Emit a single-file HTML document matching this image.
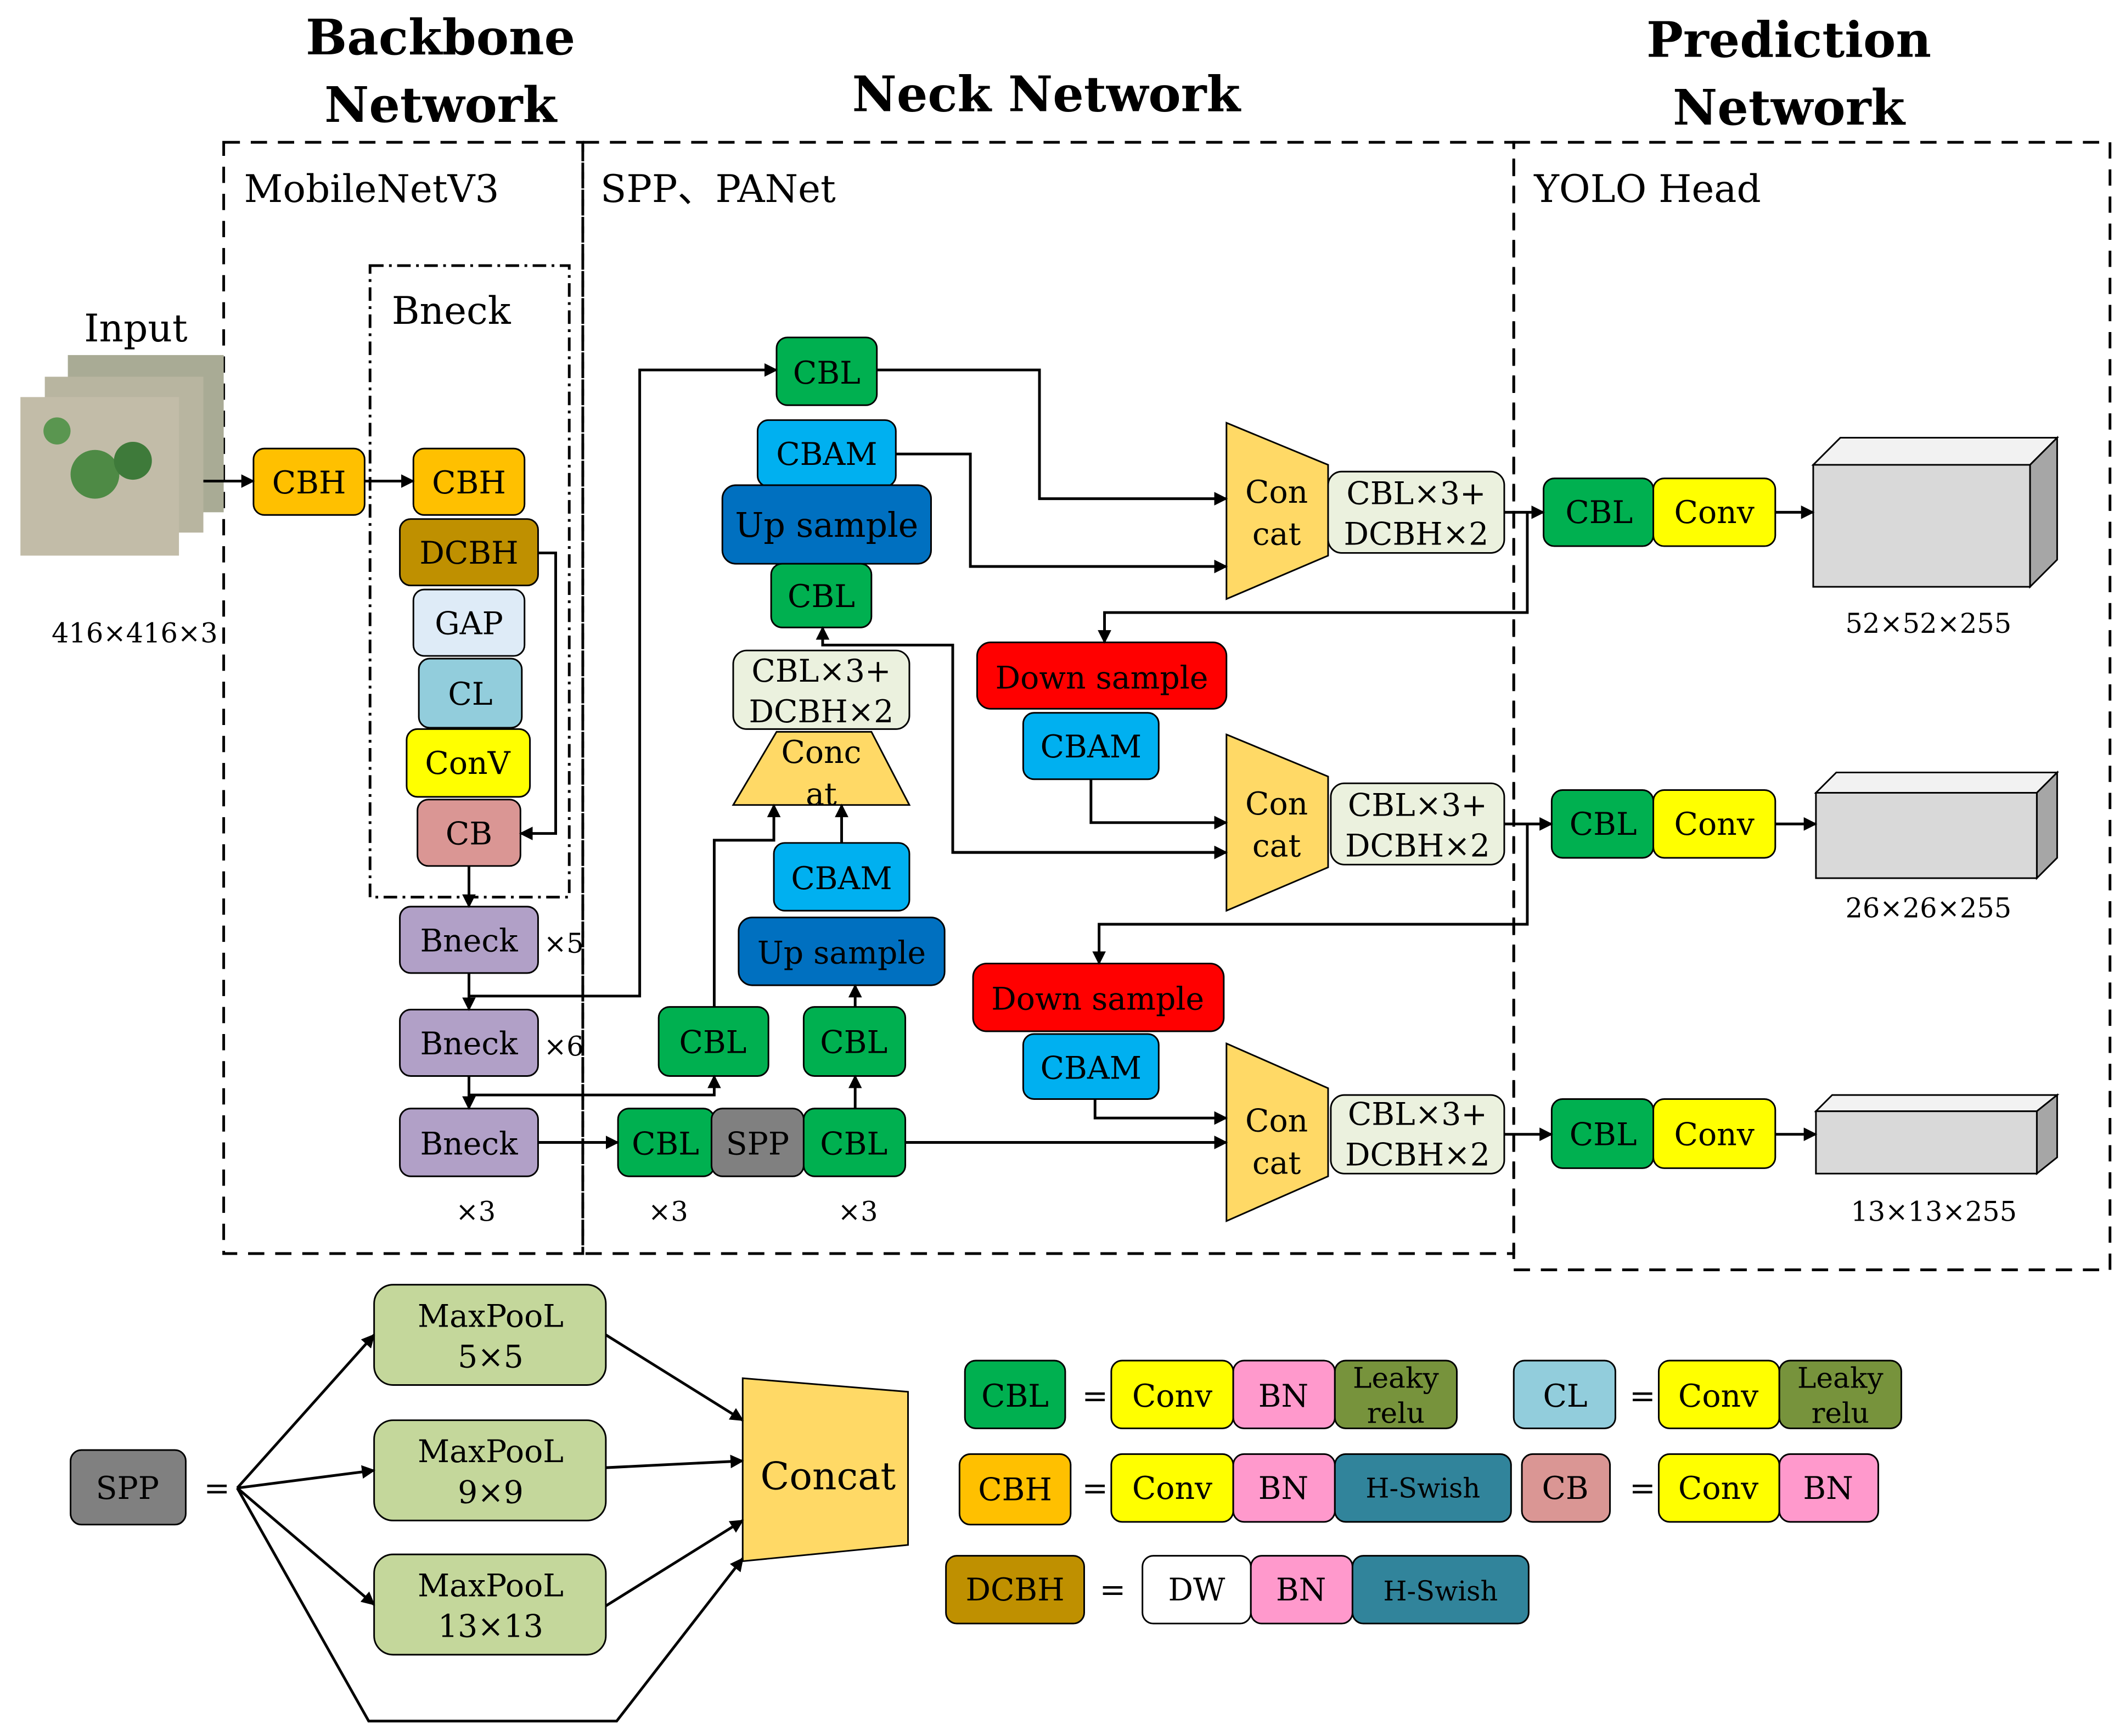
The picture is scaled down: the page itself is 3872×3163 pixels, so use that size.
<!DOCTYPE html>
<html><head><meta charset="utf-8"><style>html,body{margin:0;padding:0;background:#fff}svg{display:block}</style></head><body>
<svg xmlns="http://www.w3.org/2000/svg" width="3872" height="3163" viewBox="0 0 1568 1281" font-family="'DejaVu Serif', 'Liberation Serif', serif">
<defs><marker id="a" markerWidth="10" markerHeight="10" refX="9" refY="5" orient="auto" markerUnits="userSpaceOnUse"><path d="M0,0 L10,5 L0,10 z" fill="#000"/></marker></defs>
<rect width="1568" height="1281" fill="#fff"/>
<g font-weight="bold" font-size="36" text-anchor="middle">
<text x="325" y="40">Backbone</text><text x="325" y="90">Network</text>
<text x="772" y="82">Neck Network</text>
<text x="1320" y="42">Prediction</text><text x="1320" y="92">Network</text>
</g>
<g fill="none" stroke="#000" stroke-width="2" stroke-dasharray="12,8">
<rect x="165" y="105" width="265" height="820"/>
<rect x="430" y="105" width="687" height="820"/>
<rect x="1117" y="105" width="440" height="832"/>
</g>
<rect x="273" y="196" width="147" height="466" fill="none" stroke="#000" stroke-width="2" stroke-dasharray="10,4,2,4"/>
<g font-size="28"><text x="180" y="149">MobileNetV3</text><text x="443" y="149">SPP、PANet</text><text x="1132" y="149">YOLO Head</text><text x="289" y="239">Bneck</text><text x="62" y="252">Input</text></g>
<text x="38" y="474" font-size="20">416×416×3</text>
<rect x="50" y="262" width="115" height="116" fill="#a9ab95"/>
<rect x="33" y="278" width="117" height="115" fill="#b8b5a0"/>
<rect x="15" y="293" width="117" height="117" fill="#c2bca8"/>
<circle cx="70" cy="350" r="18" fill="#4e8a45"/><circle cx="98" cy="340" r="14" fill="#3e7a3a"/><circle cx="42" cy="318" r="10" fill="#5a9650"/>
<g stroke="#000" stroke-width="1.2">
<rect x="187" y="331" width="82" height="49" rx="8" fill="#FFC000"/>
<rect x="305" y="331" width="82" height="49" rx="8" fill="#FFC000"/>
<rect x="295" y="383" width="102" height="49" rx="8" fill="#BF9000"/>
<rect x="305" y="435" width="82" height="49" rx="8" fill="#DEEBF7"/>
<rect x="309" y="486" width="76" height="51" rx="8" fill="#92CDDC"/>
<rect x="300" y="538" width="91" height="50" rx="8" fill="#FFFF00"/>
<rect x="308" y="590" width="76" height="49" rx="8" fill="#DA9694"/>
<rect x="295" y="669" width="102" height="49" rx="8" fill="#B1A0C7"/>
<rect x="295" y="745" width="102" height="49" rx="8" fill="#B1A0C7"/>
<rect x="295" y="818" width="102" height="50" rx="8" fill="#B1A0C7"/>
<rect x="573" y="249" width="74" height="50" rx="8" fill="#00B050"/>
<rect x="559" y="310" width="102" height="49" rx="8" fill="#00B0F0"/>
<rect x="533" y="358" width="154" height="58" rx="10" fill="#0070C0"/>
<rect x="569" y="416" width="74" height="47" rx="8" fill="#00B050"/>
<rect x="541" y="480" width="130" height="58" rx="10" fill="#EBF1DE"/>
<path d="M573,540 L643,540 L671,594 L541,594 z" fill="#FFD966"/>
<rect x="571" y="622" width="100" height="50" rx="8" fill="#00B0F0"/>
<rect x="545" y="677" width="152" height="50" rx="10" fill="#0070C0"/>
<rect x="486" y="743" width="81" height="51" rx="8" fill="#00B050"/>
<rect x="593" y="743" width="75" height="51" rx="8" fill="#00B050"/>
<rect x="456" y="818" width="71" height="50" rx="8" fill="#00B050"/>
<rect x="525" y="818" width="68" height="50" rx="8" fill="#808080"/>
<rect x="593" y="818" width="75" height="50" rx="8" fill="#00B050"/>
<rect x="721" y="474" width="184" height="49" rx="10" fill="#FF0000"/>
<rect x="755" y="526" width="100" height="49" rx="8" fill="#00B0F0"/>
<rect x="718" y="711" width="185" height="50" rx="10" fill="#FF0000"/>
<rect x="755" y="763" width="100" height="48" rx="8" fill="#00B0F0"/>
<path d="M905,312 L980,343 L980,410 L905,442 z" fill="#FFD966"/>
<path d="M905,542 L980,573 L980,640 L905,672 z" fill="#FFD966"/>
<path d="M905,770 L980,803 L980,868 L905,901 z" fill="#FFD966"/>
<rect x="980" y="348" width="130" height="60" rx="10" fill="#EBF1DE"/>
<rect x="982" y="578" width="128" height="60" rx="10" fill="#EBF1DE"/>
<rect x="982" y="808" width="128" height="58" rx="10" fill="#EBF1DE"/>
<rect x="1139" y="353" width="81" height="50" rx="8" fill="#00B050"/>
<rect x="1220" y="353" width="90" height="50" rx="8" fill="#FFFF00"/>
<rect x="1145" y="583" width="75" height="50" rx="8" fill="#00B050"/>
<rect x="1220" y="583" width="90" height="50" rx="8" fill="#FFFF00"/>
<rect x="1145" y="811" width="75" height="51" rx="8" fill="#00B050"/>
<rect x="1220" y="811" width="90" height="51" rx="8" fill="#FFFF00"/>
<path d="M1338,343 L1358,323 L1518,323 L1498,343 z" fill="#f2f2f2"/>
<path d="M1498,343 L1518,323 L1518,413 L1498,433 z" fill="#a6a6a6"/>
<rect x="1338" y="343" width="160" height="90" fill="#d9d9d9"/>
<path d="M1340,585 L1355,570 L1518,570 L1503,585 z" fill="#f2f2f2"/>
<path d="M1503,585 L1518,570 L1518,633 L1503,648 z" fill="#a6a6a6"/>
<rect x="1340" y="585" width="163" height="63" fill="#d9d9d9"/>
<path d="M1340,820 L1352,808 L1518,808 L1503,820 z" fill="#f2f2f2"/>
<path d="M1503,820 L1518,808 L1518,854 L1503,866 z" fill="#a6a6a6"/>
<rect x="1340" y="820" width="163" height="46" fill="#d9d9d9"/>
<rect x="52" y="1070" width="85" height="55" rx="8" fill="#808080"/>
<rect x="276" y="948" width="171" height="74" rx="14" fill="#C4D79B"/>
<rect x="276" y="1048" width="171" height="74" rx="14" fill="#C4D79B"/>
<rect x="276" y="1147" width="171" height="74" rx="14" fill="#C4D79B"/>
<path d="M548,1017 L670,1027 L670,1140 L548,1152 z" fill="#FFD966"/>
<rect x="712" y="1004" width="74" height="50" rx="8" fill="#00B050"/>
<rect x="820" y="1004" width="90" height="50" rx="8" fill="#FFFF00"/>
<rect x="910" y="1004" width="75" height="50" rx="8" fill="#FF99CC"/>
<rect x="985" y="1004" width="90" height="50" rx="8" fill="#77933C"/>
<rect x="1117" y="1004" width="75" height="50" rx="8" fill="#92CDDC"/>
<rect x="1224" y="1004" width="89" height="50" rx="8" fill="#FFFF00"/>
<rect x="1313" y="1004" width="90" height="50" rx="8" fill="#77933C"/>
<rect x="708" y="1073" width="82" height="52" rx="8" fill="#FFC000"/>
<rect x="820" y="1073" width="90" height="50" rx="8" fill="#FFFF00"/>
<rect x="910" y="1073" width="75" height="50" rx="8" fill="#FF99CC"/>
<rect x="985" y="1073" width="130" height="50" rx="8" fill="#31849B"/>
<rect x="1123" y="1073" width="65" height="50" rx="8" fill="#DA9694"/>
<rect x="1224" y="1073" width="89" height="50" rx="8" fill="#FFFF00"/>
<rect x="1313" y="1073" width="73" height="50" rx="8" fill="#FF99CC"/>
<rect x="698" y="1148" width="102" height="50" rx="8" fill="#BF9000"/>
<rect x="843" y="1148" width="80" height="50" rx="8" fill="#fff"/>
<rect x="923" y="1148" width="75" height="50" rx="8" fill="#FF99CC"/>
<rect x="998" y="1148" width="130" height="50" rx="8" fill="#31849B"/>
</g>
<g font-size="23" text-anchor="middle">
<text x="228" y="364">CBH</text><text x="346" y="364">CBH</text><text x="346" y="416">DCBH</text><text x="346" y="468">GAP</text><text x="347" y="520">CL</text><text x="345" y="571">ConV</text><text x="346" y="623">CB</text>
<text x="346" y="702">Bneck</text><text x="346" y="778">Bneck</text><text x="346" y="852">Bneck</text>
<text x="610" y="283">CBL</text><text x="610" y="343">CBAM</text><text x="610" y="396" font-size="25">Up sample</text><text x="606" y="448">CBL</text>
<text x="606" y="503">CBL×3+</text><text x="606" y="533">DCBH×2</text><text x="606" y="563">Conc</text><text x="606" y="594">at</text>
<text x="621" y="656">CBAM</text><text x="621" y="711">Up sample</text><text x="526" y="777">CBL</text><text x="630" y="777">CBL</text>
<text x="491" y="852">CBL</text><text x="559" y="852">SPP</text><text x="630" y="852">CBL</text>
<text x="813" y="508">Down sample</text><text x="805" y="559">CBAM</text><text x="810" y="745">Down sample</text><text x="805" y="796">CBAM</text>
<text x="942" y="371">Con</text><text x="942" y="402">cat</text><text x="942" y="601">Con</text><text x="942" y="632">cat</text><text x="942" y="835">Con</text><text x="942" y="866">cat</text>
<text x="1045" y="372">CBL×3+</text><text x="1045" y="402">DCBH×2</text><text x="1046" y="602">CBL×3+</text><text x="1046" y="632">DCBH×2</text><text x="1046" y="830">CBL×3+</text><text x="1046" y="860">DCBH×2</text>
<text x="1180" y="386">CBL</text><text x="1265" y="386">Conv</text><text x="1183" y="616">CBL</text><text x="1265" y="616">Conv</text><text x="1183" y="845">CBL</text><text x="1265" y="845">Conv</text>
<text x="94" y="1106">SPP</text><text x="160" y="1106">=</text>
<text x="362" y="979">MaxPooL</text><text x="362" y="1009">5×5</text><text x="362" y="1079">MaxPooL</text><text x="362" y="1109">9×9</text><text x="362" y="1178">MaxPooL</text><text x="362" y="1208">13×13</text>
<text x="611" y="1099" font-size="28">Concat</text>
<text x="749" y="1038">CBL</text><text x="808" y="1038">=</text><text x="865" y="1038">Conv</text><text x="947" y="1038">BN</text><text x="1030" y="1024" font-size="21">Leaky</text><text x="1030" y="1050" font-size="21">relu</text>
<text x="1155" y="1038">CL</text><text x="1212" y="1038">=</text><text x="1268" y="1038">Conv</text><text x="1358" y="1024" font-size="21">Leaky</text><text x="1358" y="1050" font-size="21">relu</text>
<text x="749" y="1107">CBH</text><text x="808" y="1106">=</text><text x="865" y="1106">Conv</text><text x="947" y="1106">BN</text><text x="1050" y="1105" font-size="20">H-Swish</text>
<text x="1155" y="1106">CB</text><text x="1212" y="1106">=</text><text x="1268" y="1106">Conv</text><text x="1349" y="1106">BN</text>
<text x="749" y="1181">DCBH</text><text x="821" y="1181">=</text><text x="883" y="1181">DW</text><text x="960" y="1181">BN</text><text x="1063" y="1181" font-size="20">H-Swish</text>
</g>
<g font-size="20" text-anchor="middle">
<text x="416" y="703">×5</text><text x="416" y="779">×6</text><text x="351" y="901">×3</text><text x="493" y="901">×3</text><text x="633" y="901">×3</text>
<text x="1423" y="467">52×52×255</text><text x="1423" y="677">26×26×255</text><text x="1427" y="901">13×13×255</text>
</g>
<g fill="none" stroke="#000" stroke-width="2">
<path d="M150,355 H187" marker-end="url(#a)"/>
<path d="M269,355 H305" marker-end="url(#a)"/>
<path d="M397,408 H410 V615 H384" marker-end="url(#a)"/>
<path d="M346,639 V669" marker-end="url(#a)"/>
<path d="M346,718 V745" marker-end="url(#a)"/>
<path d="M346,735 H472 V273 H573" marker-end="url(#a)"/>
<path d="M346,794 V818" marker-end="url(#a)"/>
<path d="M346,808 H527 V794" marker-end="url(#a)"/>
<path d="M397,843 H456" marker-end="url(#a)"/>
<path d="M527,743 V620 H571 V594" marker-end="url(#a)"/>
<path d="M631,818 V794" marker-end="url(#a)"/>
<path d="M631,743 V727" marker-end="url(#a)"/>
<path d="M621,622 V594" marker-end="url(#a)"/>
<path d="M905,629 H703 V476 H607 V463" marker-end="url(#a)"/>
<path d="M703,629 H905" marker-end="url(#a)"/>
<path d="M647,273 H767 V368 H905" marker-end="url(#a)"/>
<path d="M661,335 H716 V418 H905" marker-end="url(#a)"/>
<path d="M668,843 H905" marker-end="url(#a)"/>
<path d="M805,575 V607 H905" marker-end="url(#a)"/>
<path d="M808,811 V825 H905" marker-end="url(#a)"/>
<path d="M1110,378 H1139" marker-end="url(#a)"/>
<path d="M1127,378 V452 H815 V474" marker-end="url(#a)"/>
<path d="M1110,608 H1145" marker-end="url(#a)"/>
<path d="M1127,608 V682 H811 V711" marker-end="url(#a)"/>
<path d="M1110,837 H1145" marker-end="url(#a)"/>
<path d="M1310,378 H1338" marker-end="url(#a)"/>
<path d="M1310,608 H1340" marker-end="url(#a)"/>
<path d="M1310,837 H1340" marker-end="url(#a)"/>
<path d="M175,1098 L276,985" marker-end="url(#a)"/>
<path d="M175,1098 L276,1085" marker-end="url(#a)"/>
<path d="M175,1098 L276,1184" marker-end="url(#a)"/>
<path d="M175,1098 L272,1270 H455 L548,1150" marker-end="url(#a)"/>
<path d="M447,985 L548,1048" marker-end="url(#a)"/>
<path d="M447,1083 L548,1078" marker-end="url(#a)"/>
<path d="M447,1185 L548,1122" marker-end="url(#a)"/>
</g>
</svg>
</body></html>
